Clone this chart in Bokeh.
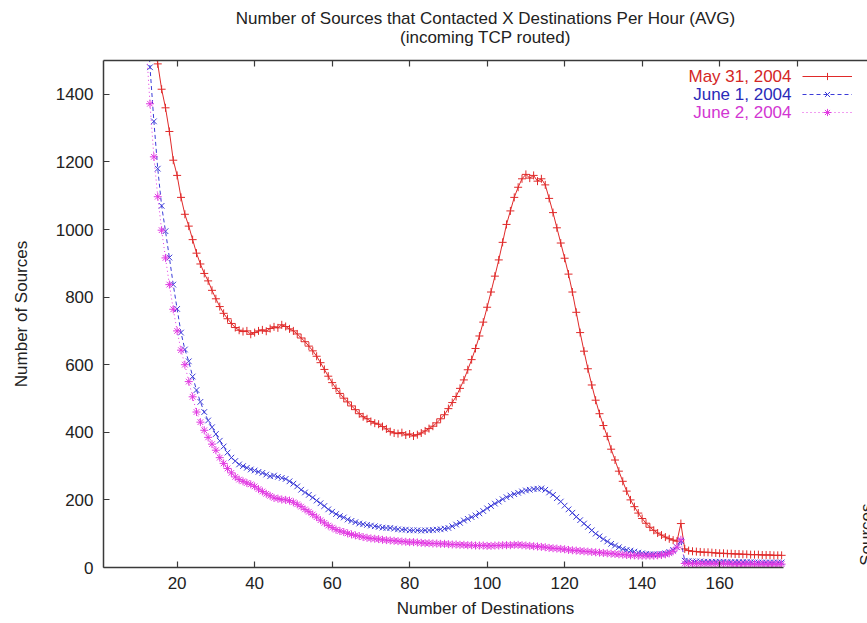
import math
from bokeh.plotting import figure
from bokeh.models import (Range1d, LinearAxis, FixedTicker, Title, Label,
                          Legend, LegendItem)
from bokeh.embed import file_html
from bokeh.resources import INLINE
from bokeh.core.properties import value

# ---------------- data ----------------
dest = list(range(11, 177))

may31 = [
    1900, 1760, 1640, 1560, 1490, 1415, 1360, 1290, 1205, 1160,
    1095, 1045, 1010, 970, 930, 898, 870, 848, 820, 795,
    772, 752, 736, 722, 710, 702, 698, 700, 690, 695,
    700, 703, 699, 707, 712, 709, 718, 713, 706, 700,
    691, 679, 668, 655, 641, 625, 606, 586, 566, 547,
    530, 515, 501, 490, 478, 467, 455, 446, 440, 432,
    427, 424, 417, 410, 402, 398, 396, 399, 392, 395,
    389, 393, 398, 404, 411, 418, 428, 440, 452, 470,
    488, 506, 530, 555, 585, 615, 648, 685, 726, 770,
    815, 862, 910, 962, 1015, 1055, 1095, 1125, 1150, 1163,
    1152, 1160, 1143, 1150, 1132, 1092, 1050, 1005, 960, 915,
    868, 815, 755, 695, 640, 588, 540, 495, 455, 420,
    388, 350, 318, 285, 255, 226, 200, 180, 161, 145,
    131, 119, 110, 102, 96, 90, 85, 81, 78, 130,
    55, 50, 48, 47, 46, 45, 45, 44, 43, 42,
    42, 41, 41, 40, 40, 39, 39, 38, 38, 38,
    37, 37, 37, 36, 36, 36,
]

june1 = [
    1900, 1680, 1480, 1320, 1180, 1070, 995, 917, 837, 765,
    695, 645, 610, 565, 525, 490, 460, 435, 415, 395,
    375, 358, 340, 325, 315, 305, 300, 295, 290, 287,
    283, 280, 275, 270, 272, 268, 265, 262, 255, 248,
    240, 230, 222, 215, 207, 198, 190, 182, 172, 165,
    158, 152, 148, 142, 138, 134, 130, 128, 126, 124,
    122, 120, 118, 117, 117, 115, 113, 112, 112, 110,
    110, 110, 109, 110, 110, 111, 112, 113, 115, 117,
    122, 127, 132, 139, 144, 149, 154, 160, 167, 175,
    182, 189, 195, 202, 208, 213, 217, 221, 225, 228,
    230, 232, 233, 234, 230, 222, 215, 205, 195, 183,
    172, 162, 150, 140, 130, 120, 110, 100, 92, 84,
    77, 70, 65, 60, 55, 52, 50, 47, 44, 42,
    40, 39, 39, 39, 40, 42, 46, 52, 60, 78,
    20, 19, 18, 18, 18, 17, 17, 17, 17, 17,
    17, 16, 16, 16, 16, 16, 16, 16, 15, 15,
    15, 15, 15, 15, 15, 15,
]

june2 = [
    1750, 1550, 1372, 1215, 1097, 998, 916, 837, 764, 700,
    643, 600, 550, 505, 460, 430, 406, 385, 365, 347,
    325, 308, 293, 280, 268, 260, 255, 250, 246, 240,
    232, 225, 218, 212, 206, 204, 201, 200, 198, 193,
    187, 180, 172, 165, 157, 149, 140, 132, 124, 118,
    112, 108, 105, 101, 98, 95, 93, 90, 88, 86,
    85, 84, 82, 81, 80, 79, 78, 77, 76, 75,
    75, 74, 73, 72, 72, 71, 71, 70, 70, 69,
    68, 68, 67, 67, 66, 66, 65, 65, 65, 64,
    64, 65, 65, 66, 66, 66, 67, 67, 66, 65,
    64, 63, 62, 61, 60, 58, 57, 56, 55, 54,
    52, 51, 50, 49, 48, 47, 46, 45, 44, 43,
    42, 41, 40, 39, 38, 37, 36, 36, 35, 35,
    35, 35, 35, 36, 37, 39, 42, 48, 60, 82,
    12, 12, 11, 11, 11, 11, 11, 11, 11, 11,
    11, 11, 10, 10, 10, 10, 10, 10, 10, 10,
    10, 10, 10, 10, 10, 10,
]

series_names = ["May 31, 2004", "June 1, 2004", "June 2, 2004"]
x_ticks = [20, 40, 60, 80, 100, 120, 140, 160]
x_ticks_top = [20, 40, 60, 80, 100, 120, 140, 160, 180]
y_ticks = [0, 200, 400, 600, 800, 1000, 1200, 1400]

title_text = "Number of Sources that Contacted X Destinations Per Hour (AVG)"
subtitle_text = "(incoming TCP routed)"

# ---------------- style ----------------
FONT = "Liberation Sans"
FS = "17px"
RED, BLUE, MAG = "#e02a2a", "#3b3bd8", "#e23ae2"
RED_T, BLUE_T, MAG_T = "#d42626", "#2a2ab8", "#d235d2"
AXC = "#3a3a3a"

X0, X1 = 1, 198.16
Y0, Y1 = 0, 1500
FRAME_L, FRAME_T, FRAME_B = 103, 60, 567


def px_x(px):
    return X0 + (px - FRAME_L) * (X1 - X0) / (867 - FRAME_L)


def px_y(py):
    return Y0 + (FRAME_B - py) * (Y1 - Y0) / (FRAME_B - FRAME_T)


p = figure(width=867, height=623, output_backend="svg", toolbar_location=None,
           x_range=Range1d(X0, X1), y_range=Range1d(Y0, Y1),
           x_axis_location=None, y_axis_location=None,
           min_border_left=FRAME_L, min_border_right=0,
           min_border_top=FRAME_T, min_border_bottom=623 - FRAME_B)
p.outline_line_color = None
p.grid.visible = False
p.background_fill_color = "white"
p.border_fill_color = "white"


def style_axis(ax):
    ax.axis_line_color = AXC
    ax.axis_line_width = 1.5
    ax.major_tick_line_color = AXC
    ax.major_tick_line_width = 1.2
    ax.major_tick_in = 6
    ax.major_tick_out = 0
    ax.minor_tick_line_color = None
    ax.major_label_text_font = FONT
    ax.major_label_text_font_size = FS
    ax.major_label_text_color = "#222222"
    ax.axis_label_text_font = FONT
    ax.axis_label_text_font_size = FS
    ax.axis_label_text_font_style = "normal"
    ax.axis_label_text_color = "#222222"


left = LinearAxis(ticker=FixedTicker(ticks=y_ticks), axis_label="Number of Sources")
style_axis(left)
left.major_label_standoff = 10
left.axis_label_standoff = 22
p.add_layout(left, "left")

below = LinearAxis(ticker=FixedTicker(ticks=x_ticks), axis_label="Number of Destinations",
                   bounds=(X0, 176.5))
style_axis(below)
below.major_label_standoff = 9
below.axis_label_standoff = 7
p.add_layout(below, "below")

top = LinearAxis(ticker=FixedTicker(ticks=x_ticks_top))
style_axis(top)
top.major_label_text_font_size = "0px"
top.major_label_standoff = 0
p.add_layout(top, "above")

# spacer between the top border and the subtitle
p.add_layout(Title(text=" ", align="center", text_font=FONT, text_font_size=FS,
                   standoff=-7), "above")
p.add_layout(Title(text=subtitle_text, align="center", text_font=FONT, text_font_size=FS,
                   text_font_style="normal", text_color="#222222", standoff=0), "above")
p.add_layout(Title(text=title_text, align="center", text_font=FONT, text_font_size=FS,
                   text_font_style="normal", text_color="#222222", standoff=-5), "above")

# ---------------- series ----------------
l1 = p.line(dest, may31, line_color=RED, line_width=1)
m1 = p.scatter(dest, may31, marker="cross", size=8, line_color=RED, line_width=1)
l2 = p.line(dest, june1, line_color=BLUE, line_width=1, line_dash="4 3")
m2 = p.scatter(dest, june1, marker="x", size=8, line_color=BLUE, line_width=1)
l3 = p.line(dest, june2, line_color=MAG, line_width=1, line_dash="1 3")
m3 = p.scatter(dest, june2, marker="asterisk", size=8, line_color=MAG, line_width=1)

legend = Legend(items=[
    LegendItem(label=value(" "), renderers=[l1, m1]),
    LegendItem(label=value(" "), renderers=[l2, m2]),
    LegendItem(label=value(" "), renderers=[l3, m3]),
], location=(699, 446), padding=0, margin=0, spacing=0, glyph_width=50,
    glyph_height=18, label_height=18, label_standoff=0, label_text_font_size="1px",
    border_line_color=None, background_fill_alpha=0)
p.add_layout(legend)

for name, col, py in zip(series_names, [RED_T, BLUE_T, MAG_T], [76, 94, 112]):
    p.add_layout(Label(x=px_x(791), y=px_y(py), text=name, text_align="right",
                       text_baseline="middle", text_font=FONT, text_font_size=FS,
                       text_color=col))

# fragment of the neighbouring chart's axis label at the right edge
p.add_layout(Label(x=px_x(866), y=px_y(503), text="Number of Sources", angle=math.pi / 2,
                   text_align="right", text_baseline="alphabetic", text_font=FONT,
                   text_font_size=FS, text_color="#222222"))

open("out.html", "w").write(file_html(p, INLINE))
